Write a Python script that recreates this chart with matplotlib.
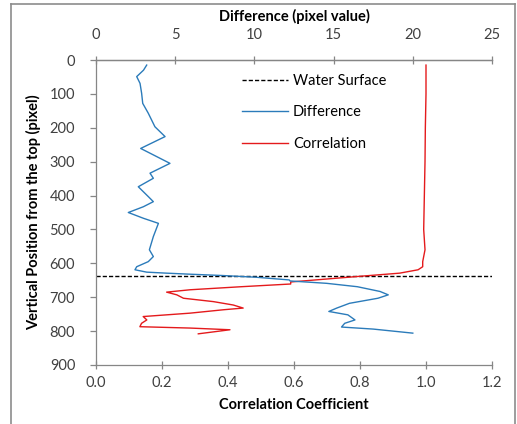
import matplotlib
matplotlib.use('Agg')
import matplotlib.pyplot as plt
from matplotlib.lines import Line2D

plt.rcParams['font.family'] = ['Lato', 'DejaVu Sans']

# Difference profile (top axis), vertical position in pixels
diff_depth = [15, 30, 49, 69, 98, 128, 157, 197, 226, 261, 285, 305, 334, 349, 374, 403, 418,
              433, 450, 467, 482, 521, 560, 580, 595, 610, 619, 626, 629, 632, 636, 641,
              649, 652, 659, 669, 683, 693, 703, 718, 732, 742, 752, 767, 777, 788, 794, 806]
diff_vals = [3.2, 3.0, 2.57, 2.78, 2.88, 2.95, 3.3, 3.72, 4.36, 2.82, 3.83, 4.67, 3.41, 3.62, 2.67,
             3.3, 3.62, 2.99, 2.04, 2.99, 3.94, 3.62, 3.37, 3.62, 3.3, 2.57, 2.46, 3.2, 4.46,
             5.9, 8.0, 10.1, 12.2, 12.25, 14.56, 16.5, 17.93, 18.45, 17.8, 16.0, 15.2, 14.7,
             15.9, 16.35, 15.7, 15.5, 17.5, 20.0]

# Correlation profile (bottom axis)
corr_depth = [15, 100, 200, 300, 400, 500, 560, 595, 610, 619, 629, 639, 647, 655, 661, 669,
              678, 685, 693, 703, 713, 723, 732, 737, 747, 757, 767, 777, 787, 791, 796, 801, 808]
corr_vals = [1.0, 1.0, 0.998, 0.997, 0.995, 0.993, 0.997, 0.99, 0.99, 0.976, 0.92, 0.79, 0.69,
             0.59, 0.59, 0.44, 0.285, 0.214, 0.245, 0.265, 0.356, 0.416, 0.446, 0.386, 0.285,
             0.143, 0.154, 0.138, 0.133, 0.285, 0.406, 0.366, 0.31]

water_surface = 636

axis_grey = '#868686'
text_grey = '#404040'

fig = plt.figure(figsize=(5.17, 4.24), dpi=100)
ax = fig.add_axes([96 / 517, 1 - 365 / 424, 396 / 517, 305 / 424])
ax2 = ax.twiny()

ws = ax.axhline(water_surface, color='black', ls=(0, (3, 1.5)), lw=1.0)
l_corr, = ax.plot(corr_vals, corr_depth, color='#E41A1C', lw=1.0)
l_diff, = ax2.plot(diff_vals, diff_depth, color='#2B7BBA', lw=1.0)

ax.set_xlim(0, 1.2)
ax.set_xticks([0.0, 0.2, 0.4, 0.6, 0.8, 1.0, 1.2])
ax.set_xticklabels(['0.0', '0.2', '0.4', '0.6', '0.8', '1.0', '1.2'])
ax.set_ylim(900, 0)
ax.set_yticks(range(0, 901, 100))
ax2.set_xlim(0, 25)
ax2.set_xticks([0, 5, 10, 15, 20, 25])
ax2.set_ylim(900, 0)

for a in (ax, ax2):
    a.spines['right'].set_visible(False)
    for s in ('left', 'bottom', 'top'):
        a.spines[s].set_color(axis_grey)
        a.spines[s].set_linewidth(0.9)
    a.tick_params(direction='inout', length=6, width=0.9, color=axis_grey,
                  labelsize=10.5, labelcolor=text_grey, pad=5)
ax.tick_params(axis='y', direction='out', length=4, pad=11)
ax2.tick_params(axis='x', pad=10)
ax2.spines['left'].set_visible(False)
ax2.spines['bottom'].set_visible(False)

ax.set_xlabel('Correlation Coefficient', fontsize=10.5, fontweight='bold', labelpad=6)
ax.set_ylabel('Vertical Position from the top (pixel)', fontsize=10.5, fontweight='bold', labelpad=6)
ax2.set_xlabel('Difference (pixel value)', fontsize=10.5, fontweight='bold', labelpad=5)

ax.legend([ws, l_diff, l_corr], ['Water Surface', 'Difference', 'Correlation'],
          loc='upper left', bbox_to_anchor=(0.368, 0.955), frameon=False, fontsize=10.5,
          handlelength=3.2, handletextpad=0.3, labelspacing=1.2, borderpad=0, borderaxespad=0)

# outer grey frame
fig.add_artist(Line2D([11 / 517, 11 / 517], [0, 1 - 4 / 424], color='#8c8c8c', lw=1.2))
fig.add_artist(Line2D([11 / 517, 515 / 517], [1 - 4 / 424, 1 - 4 / 424], color='#8c8c8c', lw=1.2))
fig.add_artist(Line2D([515 / 517, 515 / 517], [0, 1 - 4 / 424], color='#8c8c8c', lw=1.2))

fig.savefig('out.png', dpi=100)
